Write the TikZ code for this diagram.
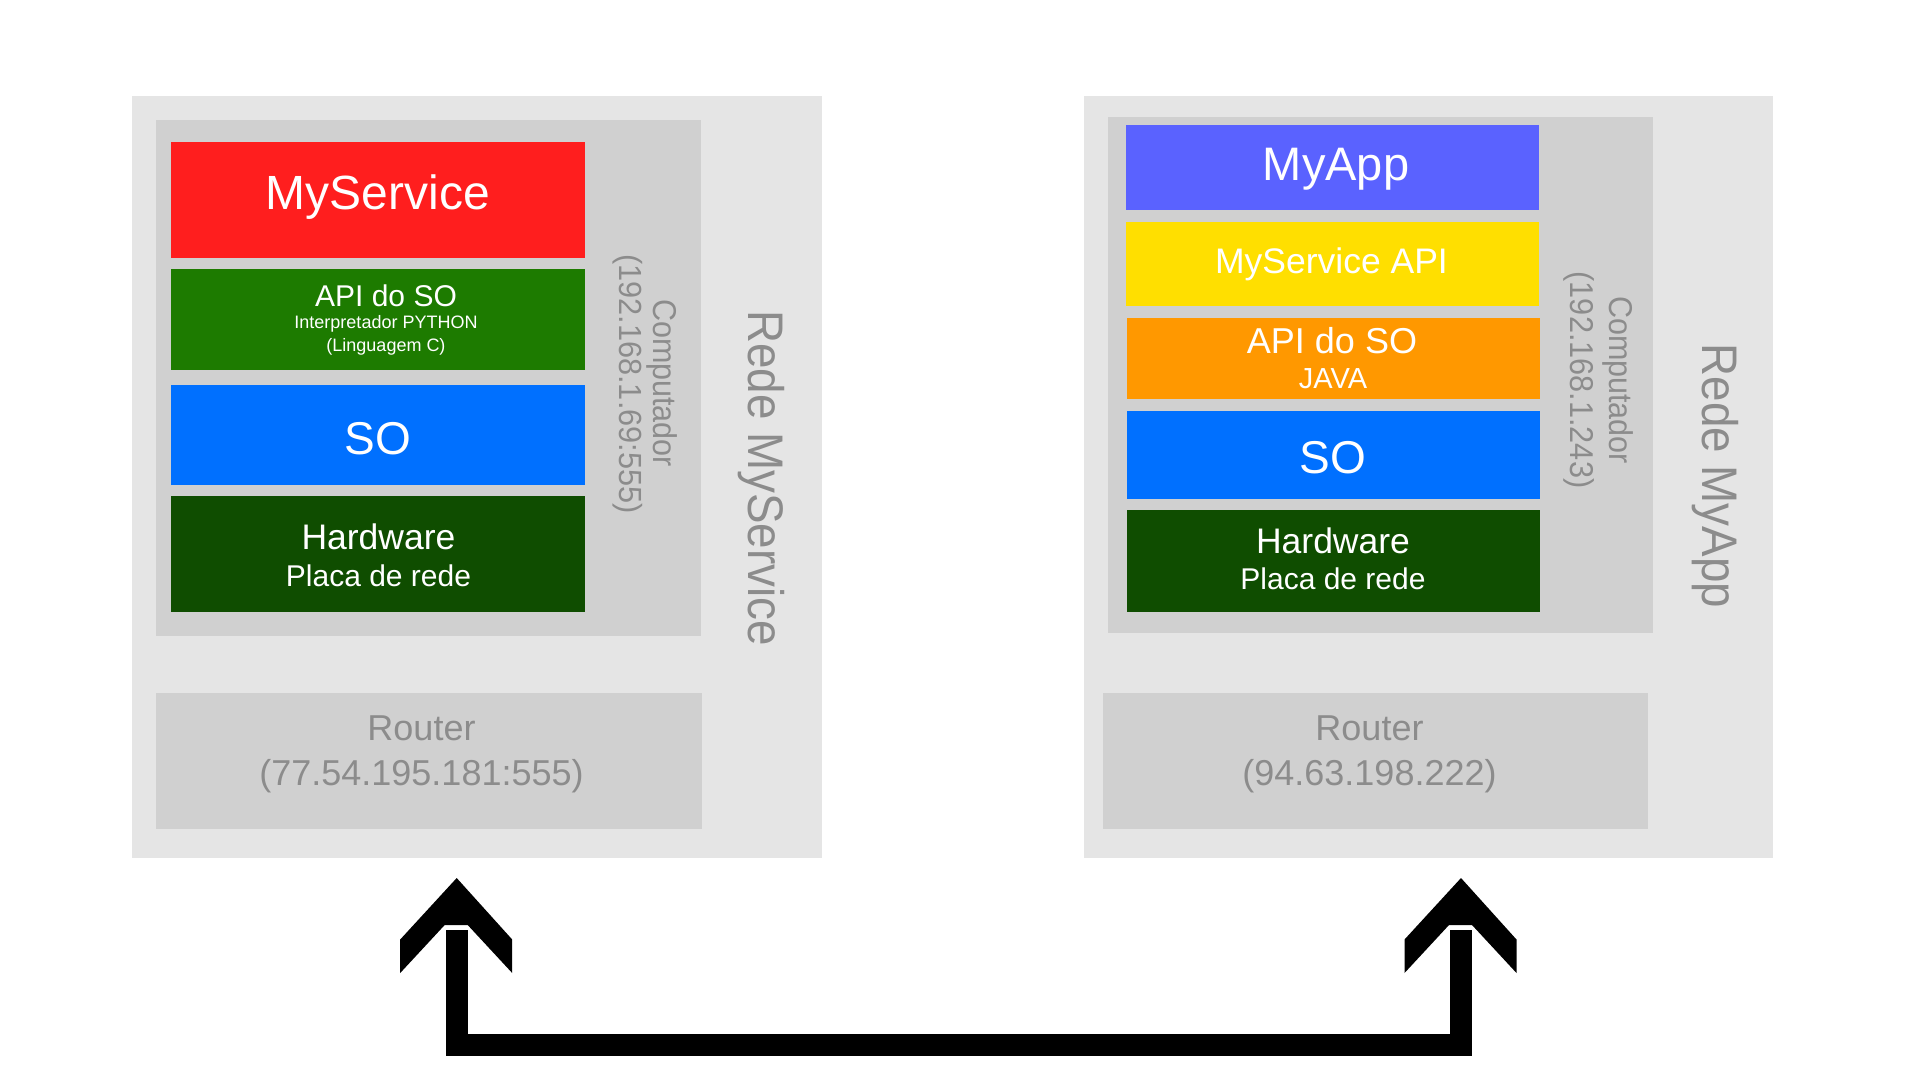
\documentclass[tikz,border=0pt]{standalone}
\usepackage{fontspec}
\setmainfont{Liberation Sans}
\definecolor{outerc}{HTML}{E5E5E5}
\definecolor{compc}{HTML}{D0D0D0}
\definecolor{redc}{HTML}{FF1E1E}
\definecolor{apigreen}{HTML}{1D7B00}
\definecolor{soblue}{HTML}{0070FF}
\definecolor{hwgreen}{HTML}{0F4D00}
\definecolor{appc}{HTML}{5A62FF}
\definecolor{yellowc}{HTML}{FFDF00}
\definecolor{orangec}{HTML}{FF9800}
\definecolor{greytxt}{HTML}{8C8C8C}
\newcommand{\fs}[1]{\fontsize{#1}{#1}\selectfont}
\tikzset{
  box/.style={rectangle, inner sep=0pt, outer sep=0pt, anchor=north west, draw=none},
  wtxt/.style={inner sep=0pt, anchor=base, text=white},
  gtxt/.style={inner sep=0pt, anchor=base, text=greytxt},
  rtxt/.style={inner sep=0pt, anchor=base, text=greytxt, rotate=-90},
  link/.style={line width=22pt, line join=miter, draw=black},
  headfill/.style={fill=black}
}
\begin{document}
\begin{tikzpicture}[x=1pt,y=-1pt]
\useasboundingbox (0,0) rectangle (1920,1080);
\fill[white] (0,0) rectangle (1920,1080);
% ---------- left network ----------
\node[box, fill=outerc, minimum width=690pt, minimum height=762pt] (outerL) at (131.5,95.5) {};
\node[box, fill=compc, minimum width=545pt, minimum height=516pt] (compL) at (156,120) {};
\node[box, fill=redc, minimum width=414pt, minimum height=116pt] (redL) at (171,142) {};
\node[box, fill=apigreen, minimum width=414pt, minimum height=101pt] (apiL) at (171,269) {};
\node[box, fill=soblue, minimum width=414pt, minimum height=100pt] (soL) at (171,385) {};
\node[box, fill=hwgreen, minimum width=414pt, minimum height=116pt] (hwL) at (171,496) {};
\node[box, fill=compc, minimum width=546pt, minimum height=136pt] (routerL) at (156,693) {};
\node[wtxt, font=\fs{48}] (tMyService) at (378,209.6) {MyService};
\node[wtxt, font=\fs{30}] (tApiL) at (386,306) {API do SO};
\node[wtxt, font=\fs{18}] (tInterp) at (386,328.6) {Interpretador PYTHON};
\node[wtxt, font=\fs{18}] (tLing) at (386,351.5) {(Linguagem C)};
\node[wtxt, font=\fs{46}] (tSoL) at (378,454) {SO};
\node[wtxt, font=\fs{35.5}] (tHwL) at (378.5,549) {Hardware};
\node[wtxt, font=\fs{30}] (tPlacaL) at (378.5,586) {Placa de rede};
\node[rtxt, font=\fs{33}] (tCompL) at (653,383) {\scalebox{0.925}[1]{Computador}};
\node[rtxt, font=\fs{32}] (tIpL) at (619,384) {\scalebox{0.96}[1]{(192.168.1.69:555)}};
\node[rtxt, font=\fs{50}] (tRedeL) at (748,478) {\scalebox{0.915}[1]{Rede MyService}};
\node[gtxt, font=\fs{36}] (tRouterL) at (421.5,740.5) {Router};
\node[gtxt, font=\fs{36}] (tRouterIpL) at (421.5,785.5) {(77.54.195.181:555)};
% ---------- right network ----------
\node[box, fill=outerc, minimum width=689pt, minimum height=762pt] (outerR) at (1084,95.5) {};
\node[box, fill=compc, minimum width=545pt, minimum height=516pt] (compR) at (1108,117) {};
\node[box, fill=appc, minimum width=413pt, minimum height=85pt] (appR) at (1126,125) {};
\node[box, fill=yellowc, minimum width=413pt, minimum height=84pt] (msapiR) at (1126,222) {};
\node[box, fill=orangec, minimum width=413pt, minimum height=81pt] (apiR) at (1126.5,318) {};
\node[box, fill=soblue, minimum width=413pt, minimum height=88pt] (soR) at (1126.5,411) {};
\node[box, fill=hwgreen, minimum width=413pt, minimum height=102pt] (hwR) at (1126.5,510) {};
\node[box, fill=compc, minimum width=545pt, minimum height=136pt] (routerR) at (1103,693) {};
\node[wtxt, font=\fs{47}] (tMyApp) at (1336,180.4) {MyApp};
\node[wtxt, font=\fs{35.5}] (tMsApi) at (1331.5,273) {MyService API};
\node[wtxt, font=\fs{36}] (tApiR) at (1332,353) {API do SO};
\node[wtxt, font=\fs{29}] (tJava) at (1333,388.6) {JAVA};
\node[wtxt, font=\fs{46}] (tSoR) at (1333,473) {SO};
\node[wtxt, font=\fs{35.5}] (tHwR) at (1333,553.6) {Hardware};
\node[wtxt, font=\fs{30}] (tPlacaR) at (1333,589) {Placa de rede};
\node[rtxt, font=\fs{33}] (tCompR) at (1609.4,380) {\scalebox{0.925}[1]{Computador}};
\node[rtxt, font=\fs{33}] (tIpR) at (1570,380) {\scalebox{0.93}[1]{(192.168.1.243)}};
\node[rtxt, font=\fs{50}] (tRedeR) at (1702,476) {\scalebox{0.915}[1]{Rede MyApp}};
\node[gtxt, font=\fs{36}] (tRouterR) at (1369.5,740) {Router};
\node[gtxt, font=\fs{36}] (tRouterIpR) at (1369.5,785) {(94.63.198.222)};
% ---------- connection ----------
\coordinate (tipL) at (456.7,878);
\coordinate (tipR) at (1461,878);
\coordinate (bend) at (0,1044.5);
\coordinate (stemL) at (456.7,930);
\coordinate (stemR) at (1461,930);
\draw[link] (stemL) -- (stemL |- bend) -- (stemR |- bend) -- (stemR);
\fill[headfill] (tipL) -- ++(-56.5,61.5) -- ++(0,33.5) -- ++(44.5,-48) -- ++(23,0) -- ++(44.5,48) -- ++(0,-33.5) -- cycle;
\fill[headfill] (tipR) -- ++(-56.5,61.5) -- ++(0,33.5) -- ++(44.5,-48) -- ++(23,0) -- ++(44.5,48) -- ++(0,-33.5) -- cycle;
\end{tikzpicture}
\end{document}
